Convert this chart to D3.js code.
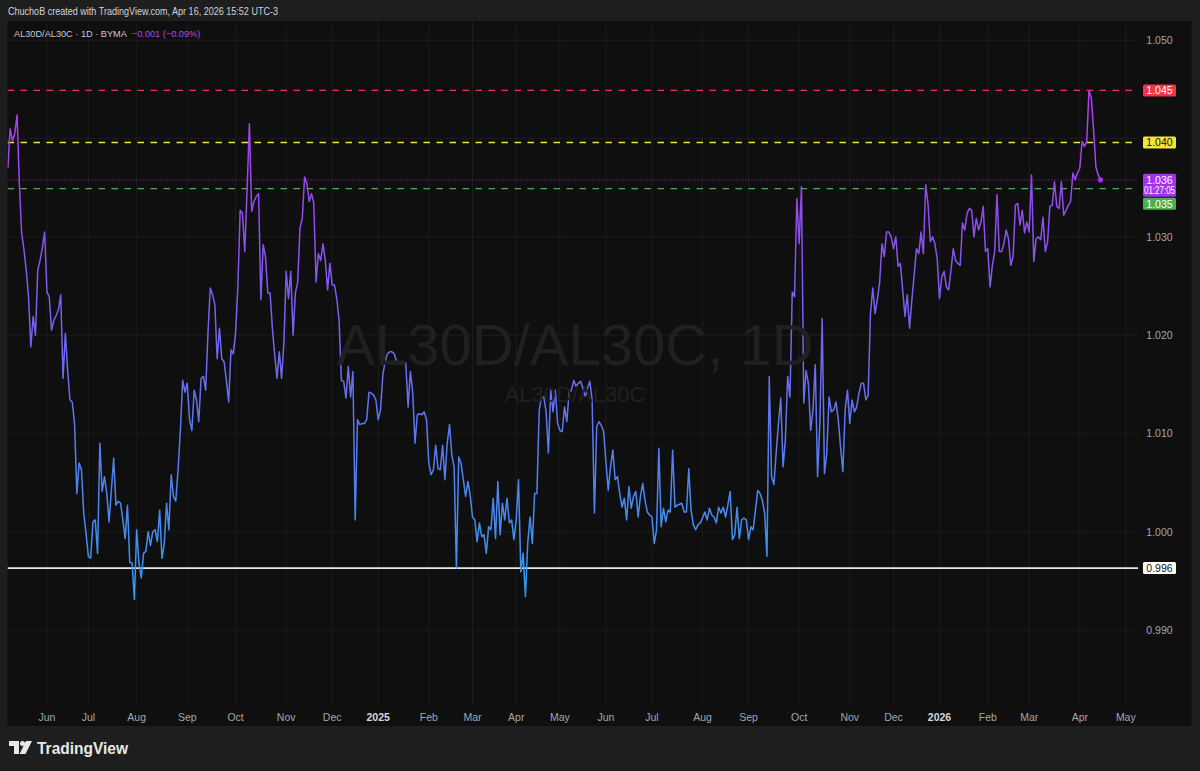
<!DOCTYPE html>
<html><head><meta charset="utf-8">
<script src="https://cdn.jsdelivr.net/npm/d3@7"></script>
<style>
html,body{margin:0;padding:0;background:#1e1e1e;}
svg{display:block;}
text{font-family:"Liberation Sans",Arial,sans-serif;}
</style></head><body>
<svg id="c" width="1200" height="771"></svg>
<script>
// ---------- DATA ----------
const symbol = "AL30D/AL30C";
const headerText = "ChuchoB created with TradingView.com, Apr 16, 2026 15:52 UTC-3";
const legendText = "AL30D/AL30C · 1D · BYMA";
const changeText = "\u22120.001 (\u22120.09%)";
// month labels shown on the time axis (start of each month)
const monthNames = ["Jun","Jul","Aug","Sep","Oct","Nov","Dec","2025","Feb","Mar","Apr","May","Jun","Jul","Aug","Sep","Oct","Nov","Dec","2026","Feb","Mar","Apr","May"];
// trading days per month, May 2024 (visible part) .. Apr 2026 (full month)
const monthTradingDays = [17,18,21,22,21,22,20,20,22,19,19,19,20,20,22,20,22,22,19,20,21,18,22,20];
// daily closes
const closes2024 = [
 1.0370,1.0410,1.0398,1.0405,1.0424,1.0354,1.0304,1.0287,1.0266,1.0239,1.0188,1.0219,1.0200,1.0266,1.0276,1.0289,1.0305,
 1.0244,1.0239,1.0205,1.0215,1.0220,1.0226,1.0241,1.0156,1.0202,1.0164,1.0134,1.0132,1.0110,1.0039,1.0070,1.0063,1.0019,0.9998,
 0.9975,0.9973,1.0010,1.0012,0.9978,1.0090,1.0041,1.0056,1.0039,1.0010,1.0042,1.0075,1.0027,1.0031,1.0029,1.0012,0.9993,1.0027,0.9969,0.9968,0.9931,
 1.0002,0.9968,0.9953,0.9978,0.9980,1.0000,0.9986,1.0000,1.0002,0.9990,1.0022,0.9973,0.9988,1.0029,1.0002,1.0058,1.0036,1.0031,1.0063,1.0103,1.0154,1.0142,
 1.0151,1.0114,1.0103,1.0144,1.0134,1.0112,1.0156,1.0158,1.0144,1.0202,1.0248,1.0241,1.0231,1.0176,1.0207,1.0176,1.0173,1.0154,1.0132,1.0185,1.0181,
 1.0202,1.0249,1.0327,1.0324,1.0285,1.0348,1.0415,1.0326,1.0336,1.0341,1.0344,1.0236,1.0292,1.0280,1.0243,1.0243,1.0207,1.0180,1.0156,1.0183,1.0156,1.0192,
 1.0265,1.0237,1.0265,1.0200,1.0243,1.0254,1.0309,1.0319,1.0361,1.0354,1.0336,1.0344,1.0334,1.0254,1.0283,1.0276,1.0293,1.0276,1.0246,1.0273,
 1.0251,1.0251,1.0237,1.0215,1.0154,1.0153,1.0136,1.0168,1.0137,1.0163,1.0012,1.0114,1.0109,1.0110,1.0110,1.0114,1.0142,1.0141,1.0139,1.0134
];
const closes2025 = [
 1.0114,1.0124,1.0159,1.0173,1.0181,1.0183,1.0183,1.0181,1.0173,1.0173,1.0173,1.0173,1.0171,1.0127,1.0163,1.0142,1.0090,1.0119,1.0120,1.0119,1.0122,1.0114,
 1.0070,1.0058,1.0063,1.0088,1.0064,1.0063,1.0088,1.0053,1.0090,1.0109,1.0078,1.0066,0.9963,1.0076,1.0070,1.0053,1.0036,1.0051,1.0037,
 1.0015,1.0012,0.9990,1.0009,0.9995,0.9997,0.9978,1.0005,1.0002,1.0034,0.9993,1.0051,0.9997,1.0029,1.0012,1.0034,1.0009,1.0012,0.9992,
 1.0012,1.0053,0.9959,0.9978,0.9934,0.9988,1.0015,0.9988,1.0039,1.0039,1.0124,1.0137,1.0137,1.0122,1.0080,1.0144,1.0122,1.0144,1.0110,
 1.0103,1.0102,1.0127,1.0112,1.0142,1.0144,1.0154,1.0148,1.0151,1.0153,1.0146,1.0137,1.0146,1.0153,1.0134,1.0019,1.0107,1.0112,1.0108,1.0102,
 1.0071,1.0042,1.0066,1.0083,1.0053,1.0056,1.0039,1.0025,1.0034,1.0012,1.0046,1.0024,1.0036,1.0041,1.0015,1.0036,1.0049,1.0032,1.0020,1.0017,
 1.0015,0.9988,1.0002,1.0085,1.0005,1.0024,1.0010,1.0022,1.0020,1.0083,1.0025,1.0027,1.0028,1.0029,1.0020,1.0020,1.0064,1.0022,1.0007,1.0002,1.0007,1.0009,
 1.0014,1.0020,1.0012,1.0024,1.0017,1.0015,1.0009,1.0025,1.0019,1.0025,1.0015,1.0027,1.0041,0.9992,0.9997,1.0025,0.9993,1.0012,1.0014,1.0012,
 0.9992,1.0005,1.0002,1.0022,1.0042,1.0039,1.0032,1.0019,0.9975,1.0158,1.0056,1.0048,1.0080,1.0110,1.0136,1.0066,1.0093,1.0158,1.0137,1.0244,1.0239,1.0339,
 1.0293,1.0351,1.0131,1.0164,1.0151,1.0103,1.0124,1.0170,1.0056,1.0110,1.0217,1.0059,1.0080,1.0137,1.0122,1.0124,1.0132,1.0114,1.0086,1.0061,1.0124,1.0144,
 1.0110,1.0134,1.0122,1.0127,1.0141,1.0151,1.0151,1.0134,1.0139,1.0222,1.0248,1.0222,1.0237,1.0254,1.0293,1.0280,1.0305,1.0305,1.0300,
 1.0288,1.0300,1.0270,1.0273,1.0246,1.0219,1.0241,1.0207,1.0236,1.0261,1.0288,1.0283,1.0305,1.0283,1.0353,1.0334,1.0295,1.0300,1.0293,1.0278
];
const closes2026 = [
 1.0237,1.0259,1.0265,1.0249,1.0246,1.0266,1.0288,1.0276,1.0273,1.0271,1.0314,1.0307,1.0324,1.0329,1.0327,1.0300,1.0319,1.0307,1.0315,1.0331,1.0285,
 1.0288,1.0249,1.0271,1.0285,1.0343,1.0285,1.0285,1.0293,1.0307,1.0298,1.0271,1.0280,1.0332,1.0334,1.0312,1.0327,1.0304,1.0315,
 1.0305,1.0363,1.0275,1.0298,1.0300,1.0297,1.0320,1.0285,1.0295,1.0331,1.0332,1.0356,1.0331,1.0329,1.0356,1.0322,1.0327,1.0332,1.0336,1.0365,1.0358,1.0365,
 1.0370,1.0397,1.0392,1.0397,1.0449,1.0441,1.0409,1.0371,1.0363,1.0358
];
// horizontal levels drawn on the chart
const levelValues = [1.0449, 1.0396, 1.0349];
const levelLabels = ["1.045", "1.040", "1.035"];
const supportValue = 0.9963;
const supportLabel = "0.996";
const lastLabel = "1.036";
const countdownLabel = "01:27:05";
const priceTicks = [0.990, 1.000, 1.010, 1.020, 1.030, 1.040, 1.050];

// ---------- LAYOUT / STYLE ----------
const closes = closes2024.concat(closes2025, closes2026);
const panel = {x: 7.5, y: 21, w: 1184, h: 705};
const plot = {left: 7.5, right: 1138, top: 21, bottom: 706};
const levelColors = ["#f23645", "#f2e33a", "#4caf50"];
const levelTextColors = ["#ffffff", "#131313", "#ffffff"];
const purple = "#a232f0";

const svg = d3.select("#c");
svg.append("rect").attr("width",1200).attr("height",771).attr("fill","#1e1e1e");
svg.append("rect").attr("x",panel.x).attr("y",panel.y).attr("width",panel.w).attr("height",panel.h).attr("fill","#0f0f0f");

const x = d3.scaleLinear().domain([-0.15, 491.3]).range([plot.left, plot.right]);
const y = d3.scaleLinear().domain([0.98227, 1.05196]).range([plot.bottom, plot.top]);

// month start indices
const cum = d3.cumsum(monthTradingDays);
const monthTicks = monthNames.map((m,i)=>({name:m, idx: cum[i], bold: /^\d{4}$/.test(m)}));

const defs = svg.append("defs");
defs.append("clipPath").attr("id","clip").append("rect")
  .attr("x",plot.left).attr("y",plot.top).attr("width",plot.right-plot.left).attr("height",plot.bottom-plot.top);
const grad = defs.append("linearGradient").attr("id","lg").attr("gradientUnits","userSpaceOnUse")
  .attr("x1",0).attr("x2",0).attr("y1",y(0.993)).attr("y2",y(1.045));
grad.append("stop").attr("offset","0%").attr("stop-color","#2f9cf0");
grad.append("stop").attr("offset","40%").attr("stop-color","#6670f0");
grad.append("stop").attr("offset","75%").attr("stop-color","#8f4cf0");
grad.append("stop").attr("offset","100%").attr("stop-color","#b33cf5");

const g = svg.append("g").attr("clip-path","url(#clip)");
// grid
g.selectAll("line.hg").data(priceTicks).join("line")
  .attr("x1",plot.left).attr("x2",plot.right).attr("y1",d=>y(d)).attr("y2",d=>y(d))
  .attr("stroke","#1c1c1c").attr("stroke-width",1);
g.selectAll("line.vg").data(monthTicks).join("line")
  .attr("x1",d=>x(d.idx)).attr("x2",d=>x(d.idx)).attr("y1",plot.top).attr("y2",plot.bottom)
  .attr("stroke","#1c1c1c").attr("stroke-width",1);

// watermark
svg.append("text").attr("x",575).attr("y",365).attr("text-anchor","middle")
  .attr("font-size",58).attr("fill","#202020").text(symbol + ", 1D");
svg.append("text").attr("x",575).attr("y",402).attr("text-anchor","middle")
  .attr("font-size",22).attr("fill","#202020").text(symbol);

// level lines
levelValues.forEach((v,i)=>{
  g.append("line").attr("x1",plot.left).attr("x2",plot.right).attr("y1",y(v)).attr("y2",y(v))
    .attr("stroke",levelColors[i]).attr("stroke-width",1.3).attr("stroke-dasharray","6.5,6.5");
});
g.append("line").attr("x1",plot.left).attr("x2",plot.right).attr("y1",y(supportValue)).attr("y2",y(supportValue))
  .attr("stroke","#e8e8e8").attr("stroke-width",1.6);
const last = closes[closes.length-1];
g.append("line").attr("x1",plot.left).attr("x2",plot.right).attr("y1",y(last)).attr("y2",y(last))
  .attr("stroke","#8a2fc0").attr("stroke-width",1).attr("stroke-dasharray","1,2");

// series line
const line = d3.line().x((d,i)=>x(i)).y(d=>y(d));
g.append("path").datum(closes).attr("d",line).attr("fill","none")
  .attr("stroke","url(#lg)").attr("stroke-width",1.5).attr("stroke-linejoin","round");
g.append("circle").attr("cx",x(closes.length-1)).attr("cy",y(last)).attr("r",2.6).attr("fill",purple);

// price axis labels
const boxX = 1143, boxW = 33, boxH = 12;
const occupied = levelValues.concat([supportValue, last]).map(v=>y(v));
svg.selectAll("text.pt").data(priceTicks.filter(t=>occupied.every(o=>Math.abs(o-y(t))>9))).join("text")
  .attr("x",boxX+boxW/2).attr("y",d=>y(d)+4).attr("text-anchor","middle")
  .attr("font-size",10.5).attr("fill","#a3a6af").text(d=>d.toFixed(3));

function box(v, yc, label, bg, fg){
  svg.append("rect").attr("x",boxX).attr("y",yc-boxH/2).attr("width",boxW).attr("height",boxH).attr("rx",1.5).attr("fill",bg);
  svg.append("text").attr("x",boxX+boxW/2).attr("y",yc+4).attr("text-anchor","middle")
    .attr("font-size",10.5).attr("fill",fg).text(label);
}
// red & yellow
box(levelValues[0], y(levelValues[0]), levelLabels[0], levelColors[0], levelTextColors[0]);
box(levelValues[1], y(levelValues[1]), levelLabels[1], levelColors[1], levelTextColors[1]);
// last price (two lines)
const ly = y(last);
svg.append("rect").attr("x",boxX).attr("y",ly-6).attr("width",boxW).attr("height",23).attr("rx",1.5).attr("fill",purple);
svg.append("text").attr("x",boxX+boxW/2).attr("y",ly+4).attr("text-anchor","middle").attr("font-size",10.5).attr("fill","#fff").text(lastLabel);
svg.append("text").attr("x",boxX+boxW/2).attr("y",ly+14.5).attr("text-anchor","middle").attr("font-size",10)
  .attr("textLength",31).attr("lengthAdjust","spacingAndGlyphs").attr("fill","#fff").text(countdownLabel);
// green pushed below the last price box
const gy = Math.max(y(levelValues[2]), ly + 17 + 1 + boxH/2);
box(levelValues[2], gy, levelLabels[2], levelColors[2], levelTextColors[2]);
// support
box(supportValue, y(supportValue), supportLabel, "#ffffff", "#131313");

// time axis labels
svg.selectAll("text.mt").data(monthTicks).join("text")
  .attr("x",d=>x(d.idx)).attr("y",721).attr("text-anchor","middle")
  .attr("font-size",10.5).attr("font-weight",d=>d.bold?"bold":"normal")
  .attr("fill",d=>d.bold?"#d8d8d8":"#a3a6af").text(d=>d.name);

// header & legend
svg.append("text").attr("x",8).attr("y",15).attr("font-size",10.5).attr("fill","#d1d4dc")
  .attr("textLength",270).attr("lengthAdjust","spacingAndGlyphs").text(headerText);
const leg = svg.append("text").attr("x",14).attr("y",36.5).attr("font-size",9.2).attr("fill","#c8cad0");
leg.append("tspan").text(legendText);
leg.append("tspan").attr("dx",5).attr("fill","#a64ef0").text(changeText);

// TradingView logo
const logo = svg.append("g").attr("transform","translate(9,741)").attr("fill","#e8e8e8");
logo.append("path").attr("d","M0 0 H10 V13 H5 V5 H0 Z");
logo.append("circle").attr("cx",13.5).attr("cy",2.5).attr("r",2.5);
logo.append("path").attr("d","M17 0 H23 L16.5 13 H10.5 Z");
svg.append("text").attr("x",37).attr("y",754).attr("font-size",17).attr("font-weight","bold")
  .attr("textLength",91).attr("lengthAdjust","spacingAndGlyphs").attr("fill","#e8e8e8").text("TradingView");
</script>
</body></html>
